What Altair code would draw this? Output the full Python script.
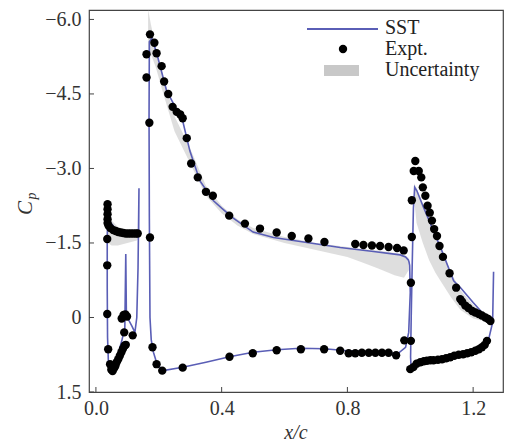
import altair as alt
import pandas as pd

# ---------------- Experimental data (x/c, Cp) ----------------
slat_exp_x = [0.037, 0.037, 0.037, 0.037, 0.037, 0.040, 0.046, 0.055, 0.063, 0.071, 0.079, 0.087,
              0.095, 0.103, 0.111, 0.119, 0.127, 0.133,
              0.036, 0.036, 0.036, 0.039, 0.045, 0.049, 0.053, 0.058, 0.062, 0.066, 0.071, 0.076,
              0.081, 0.086, 0.091, 0.095,
              0.082, 0.088, 0.094, 0.099, 0.090, 0.117]
slat_exp_cp = [-2.28, -2.18, -2.08, -1.98, -1.90, -1.85, -1.80, -1.76, -1.74, -1.72, -1.71, -1.70,
               -1.69, -1.69, -1.69, -1.69, -1.69, -1.69,
               -1.58, -1.05, -0.07, 0.64, 0.94, 1.05, 1.08, 1.02, 0.97, 0.90, 0.84, 0.77,
               0.70, 0.63, 0.57, 0.55,
               0.02, -0.05, -0.06, -0.02, 0.30, 0.36]

main_exp_x = [0.172, 0.170, 0.161, 0.161, 0.172, 0.186, 0.193, 0.209, 0.217, 0.230, 0.244, 0.257,
              0.268, 0.276, 0.289, 0.303, 0.324, 0.350, 0.372, 0.424, 0.474, 0.522, 0.575, 0.623,
              0.676, 0.727, 0.825, 0.851, 0.878, 0.904, 0.931, 0.958, 0.979,
              0.180, 0.193, 0.211, 0.276, 0.425, 0.499, 0.575, 0.652, 0.726, 0.777, 0.804, 0.825,
              0.846, 0.868, 0.889, 0.910, 0.931, 0.955, 0.981]
main_exp_cp = [-1.61, -3.92, -4.83, -5.30, -5.70, -5.53, -5.32, -5.06, -4.75, -4.50, -4.24, -4.14,
               -4.09, -4.01, -3.61, -3.10, -2.82, -2.53, -2.45, -2.05, -1.89, -1.79, -1.71, -1.64,
               -1.59, -1.52, -1.48, -1.46, -1.45, -1.44, -1.42, -1.40, -1.35,
               0.60, 0.94, 1.07, 1.01, 0.79, 0.72, 0.66, 0.64, 0.64, 0.67, 0.72, 0.72,
               0.71, 0.71, 0.71, 0.71, 0.71, 0.76, 0.46]

flap_exp_x = [1.002, 1.005, 1.005, 1.011, 1.016, 1.027, 1.035, 1.040, 1.048, 1.055, 1.062, 1.069,
              1.076, 1.085, 1.093, 1.104, 1.125, 1.146, 1.159, 1.165, 1.175, 1.185, 1.197, 1.207,
              1.218, 1.228, 1.239, 1.248, 1.255,
              1.002, 1.000, 1.010, 1.020, 1.032, 1.043, 1.053, 1.064, 1.074, 1.088, 1.101, 1.114,
              1.127, 1.140, 1.154, 1.168, 1.181, 1.194, 1.207, 1.218, 1.228, 1.237, 1.244]
flap_exp_cp = [-0.70, -1.62, -2.36, -2.95, -3.15, -2.95, -2.82, -2.62, -2.45, -2.25, -2.11, -1.95,
               -1.78, -1.64, -1.44, -1.22, -0.89, -0.60, -0.37, -0.32, -0.24, -0.19, -0.13, -0.10,
               -0.07, -0.04, 0.00, 0.03, 0.07,
               0.47, 1.04, 1.00, 0.93, 0.90, 0.88, 0.87, 0.86, 0.86, 0.85, 0.84, 0.82,
               0.80, 0.77, 0.75, 0.74, 0.72, 0.70, 0.67, 0.64, 0.60, 0.55, 0.47]

# ---------------- SST computation (closed paths per element) ----------------
slat_sst_x = [0.137, 0.136, 0.120, 0.100, 0.080, 0.060, 0.046, 0.038, 0.036, 0.036, 0.037, 0.040,
              0.046, 0.055, 0.070, 0.083, 0.092, 0.095, 0.097, 0.104, 0.115, 0.124, 0.130, 0.134, 0.137]
slat_sst_cp = [-2.60, -1.72, -1.70, -1.71, -1.74, -1.80, -1.92, -2.28, -1.60, -0.60, 0.40, 0.95,
               1.07, 0.98, 0.75, 0.45, 0.20, -1.28, 0.00, 0.05, 0.18, 0.30, 0.00, -1.00, -2.60]

main_sst_x = [0.995, 0.985, 0.968, 0.883, 0.777, 0.671, 0.565, 0.500, 0.437, 0.400, 0.374, 0.331,
              0.299, 0.276, 0.225, 0.193, 0.178, 0.170, 0.169, 0.170, 0.172, 0.176, 0.183, 0.195,
              0.214, 0.276, 0.350, 0.425, 0.500, 0.575, 0.650, 0.726, 0.800, 0.900, 0.960, 0.985,
              0.995, 1.000, 0.998, 0.995]
main_sst_cp = [-1.15, -1.22, -1.26, -1.33, -1.41, -1.51, -1.61, -1.72, -2.00, -2.20, -2.35, -2.75,
               -3.35, -3.96, -4.56, -5.33, -5.62, -5.55, -4.00, -2.00, 0.00, 0.45, 0.70, 0.95,
               1.07, 1.00, 0.90, 0.79, 0.70, 0.65, 0.62, 0.63, 0.67, 0.70, 0.73, 0.60,
               0.30, -0.50, -1.05, -1.15]

flap_sst_x = [1.263, 1.240, 1.200, 1.160, 1.138, 1.100, 1.060, 1.040, 1.021, 1.014, 1.010, 1.006,
              1.003, 1.001, 1.003, 1.010, 1.030, 1.060, 1.100, 1.150, 1.200, 1.230, 1.250, 1.262,
              1.265]
flap_sst_cp = [0.02, -0.02, -0.30, -0.60, -0.74, -1.35, -1.95, -2.25, -2.55, -2.62, -2.20, -1.00,
               0.00, 0.80, 1.05, 1.02, 0.93, 0.88, 0.85, 0.78, 0.69, 0.60, 0.42, 0.10, -0.92]

# ---------------- Uncertainty band ----------------
slat_band_x = [0.038, 0.050, 0.070, 0.100, 0.130, 0.137]
slat_band_lo = [-2.35, -1.95, -1.82, -1.76, -1.74, -1.72]
slat_band_hi = [-1.50, -1.45, -1.45, -1.50, -1.55, -1.60]

main_band_x = [0.166, 0.175, 0.190, 0.210, 0.250, 0.300, 0.350, 0.400, 0.450, 0.500, 0.600,
               0.700, 0.800, 0.850, 0.900, 0.950, 0.980, 0.995]
main_band_lo = [-6.20, -5.90, -5.45, -4.95, -4.05, -3.40, -2.65, -2.25, -1.98, -1.80, -1.62,
                -1.50, -1.42, -1.38, -1.35, -1.30, -1.27, -1.20]
main_band_hi = [-5.40, -5.30, -5.05, -4.60, -3.75, -3.10, -2.45, -2.10, -1.85, -1.68, -1.50,
                -1.36, -1.22, -1.10, -0.98, -0.85, -0.80, -0.95]

flap_band_x = [1.012, 1.020, 1.040, 1.060, 1.080, 1.100, 1.130, 1.160, 1.200, 1.240, 1.260]
flap_band_lo = [-2.70, -2.60, -2.30, -2.00, -1.70, -1.35, -0.90, -0.55, -0.25, -0.05, 0.00]
flap_band_hi = [-2.40, -1.90, -1.50, -1.15, -0.90, -0.70, -0.40, -0.15, 0.02, 0.08, 0.10]

x_ticks = [0, 0.4, 0.8, 1.2]
y_ticks = [-6.0, -4.5, -3.0, -1.5, 0, 1.5]

# ---------------- Build tables ----------------
exp_df = pd.DataFrame({"x": slat_exp_x + main_exp_x + flap_exp_x,
                       "cp": slat_exp_cp + main_exp_cp + flap_exp_cp})

rows = []
for name, xs_, cs_ in [("slat", slat_sst_x, slat_sst_cp), ("main", main_sst_x, main_sst_cp),
                       ("flap", flap_sst_x, flap_sst_cp)]:
    for i, (a, b) in enumerate(zip(xs_, cs_)):
        rows.append({"elem": name, "idx": i, "x": a, "cp": b})
line_df = pd.DataFrame(rows)

rows = []
for name, xs_, lo_, hi_ in [("slat", slat_band_x, slat_band_lo, slat_band_hi),
                            ("main", main_band_x, main_band_lo, main_band_hi),
                            ("flap", flap_band_x, flap_band_lo, flap_band_hi)]:
    for a, b, c in zip(xs_, lo_, hi_):
        rows.append({"elem": name, "x": a, "lo": b, "hi": c})
band_df = pd.DataFrame(rows)

W, H = 414, 382
FONT = "Liberation Serif, Times New Roman, serif"
BLUE = "#5a5eb6"
AX = "#444444"

xs = alt.Scale(domain=[-0.022, 1.295], nice=False, zero=False)
ys = alt.Scale(domain=[-6.19, 1.5], nice=False, zero=False, reverse=True)

x_axis = alt.Axis(values=x_ticks, ticks=False, domain=False, grid=False, title=None,
                  labelFont=FONT, labelFontSize=20, labelColor="#333333", labelPadding=6)
y_axis = alt.Axis(values=y_ticks, ticks=False, domain=False, grid=False, title=None,
                  labelFont=FONT, labelFontSize=20, labelColor="#333333", labelPadding=8,
                  labelExpr="datum.value == 0 ? '0' : replace(format(datum.value, '.1f'), '-', '\u2212')")

band = alt.Chart(band_df).mark_area(color="#c8c8c8", opacity=0.6, clip=True).encode(
    x=alt.X("x:Q", scale=xs, axis=x_axis),
    y=alt.Y("lo:Q", scale=ys, axis=y_axis),
    y2="hi:Q",
    detail="elem:N",
)

line = alt.Chart(line_df).mark_line(color=BLUE, strokeWidth=1.6, clip=True).encode(
    x=alt.X("x:Q", scale=xs, axis=x_axis),
    y=alt.Y("cp:Q", scale=ys, axis=y_axis),
    detail="elem:N",
    order="idx:Q",
)

pts = alt.Chart(exp_df).mark_point(filled=True, color="black", size=70, opacity=1, clip=True).encode(
    x=alt.X("x:Q", scale=xs, axis=x_axis),
    y=alt.Y("cp:Q", scale=ys, axis=y_axis),
)

xt = alt.Chart(pd.DataFrame({"v": x_ticks})).mark_rule(color=AX, strokeWidth=1).encode(
    x=alt.X("v:Q", scale=xs, axis=x_axis), y=alt.value(H), y2=alt.value(H - 5))
yt = alt.Chart(pd.DataFrame({"v": y_ticks})).mark_rule(color=AX, strokeWidth=1).encode(
    y=alt.Y("v:Q", scale=ys, axis=y_axis), x=alt.value(0), x2=alt.value(5))

one = pd.DataFrame({"a": [0]})
leg_line = alt.Chart(one).mark_rule(color=BLUE, strokeWidth=2).encode(
    x=alt.value(218), x2=alt.value(289), y=alt.value(19))
leg_dot = alt.Chart(one).mark_point(filled=True, color="black", size=70, opacity=1).encode(
    x=alt.value(254), y=alt.value(39))
leg_rect = alt.Chart(one).mark_rect(color="#c8c8c8").encode(
    x=alt.value(235), x2=alt.value(270), y=alt.value(55), y2=alt.value(66))
leg_text = [
    alt.Chart(one).mark_text(align="left", baseline="middle", font=FONT, fontSize=20,
                             color="#222222").encode(x=alt.value(296), y=alt.value(yy), text=alt.value(t))
    for t, yy in [("SST", 18), ("Expt.", 39), ("Uncertainty", 60)]
]

xtitle = alt.Chart(one).mark_text(font=FONT, fontSize=20, fontStyle="italic", color="#333333",
                                  baseline="middle").encode(
    x=alt.value(W / 2), y=alt.value(H + 41), text=alt.value("x/c"))
ctitle = alt.Chart(one).mark_text(font=FONT, fontSize=21, fontStyle="italic", color="#333333",
                                  angle=270, baseline="middle").encode(
    x=alt.value(-63), y=alt.value(198), text=alt.value("C"))
ptitle = alt.Chart(one).mark_text(font=FONT, fontSize=14, fontStyle="italic", color="#333333",
                                  angle=270, baseline="middle").encode(
    x=alt.value(-57), y=alt.value(186), text=alt.value("p"))

chart = alt.layer(band, line, pts, xt, yt, leg_line, leg_dot, leg_rect, *leg_text,
                  xtitle, ctitle, ptitle).properties(
    width=W, height=H,
    autosize=alt.AutoSizeParams(type="none"),
    padding={"left": 89, "top": 10, "right": 5, "bottom": 51},
    background="white",
).configure_view(stroke=AX, strokeWidth=1.2)

chart.save("out.html", embed_options={"renderer": "svg", "actions": False})
